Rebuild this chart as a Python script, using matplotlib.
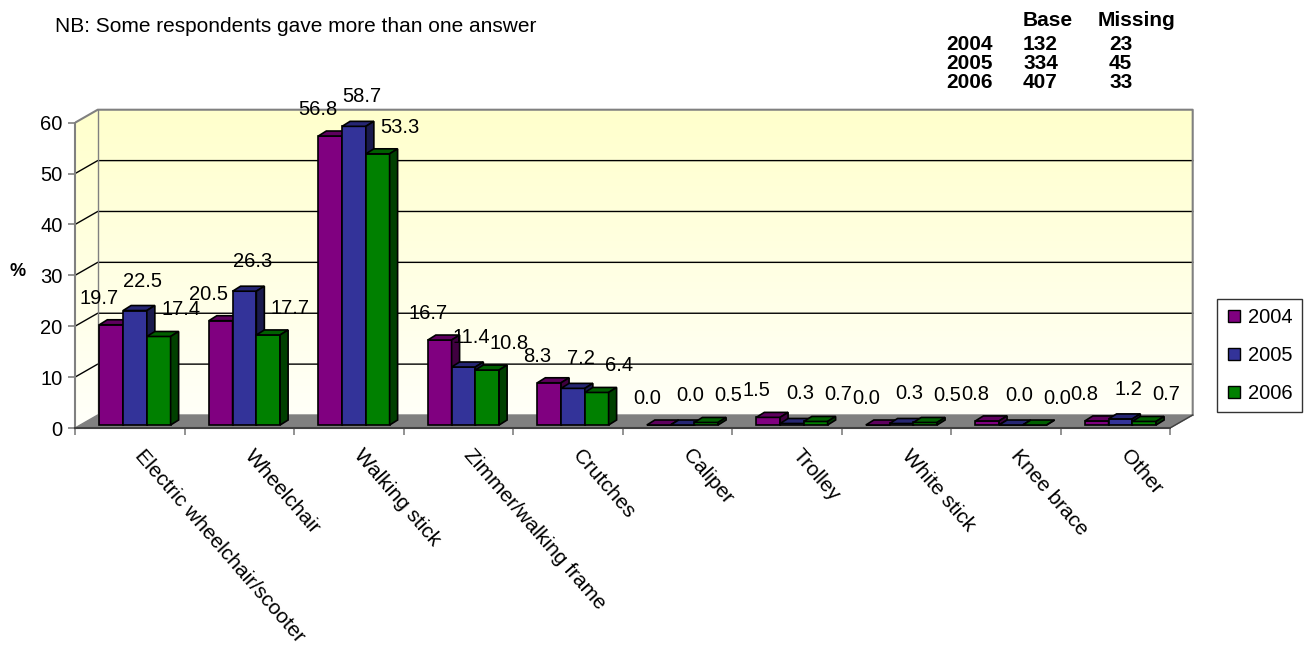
import matplotlib
matplotlib.use("Agg")
import matplotlib.pyplot as plt
import numpy as np
from matplotlib.lines import Line2D
from matplotlib.patches import Polygon

plt.rcParams["font.family"] = ["Liberation Sans", "DejaVu Sans"]

categories = [
    "Electric wheelchair/scooter",
    "Wheelchair",
    "Walking stick",
    "Zimmer/walking frame",
    "Crutches",
    "Caliper",
    "Trolley",
    "White stick",
    "Knee brace",
    "Other",
]
years = ["2004", "2005", "2006"]
pct_2004 = [19.7, 20.5, 56.8, 16.7, 8.3, 0.0, 1.5, 0.0, 0.8, 0.8]
pct_2005 = [22.5, 26.3, 58.7, 11.4, 7.2, 0.0, 0.3, 0.3, 0.0, 1.2]
pct_2006 = [17.4, 17.7, 53.3, 10.8, 6.4, 0.5, 0.7, 0.5, 0.0, 0.7]
base_n = [132, 334, 407]
missing_n = [23, 45, 33]
y_ticks = [0, 10, 20, 30, 40, 50, 60]

# figure / projection constants (pixels)
W, H = 1308, 655
PX_X = 109.5      # px per category
PX_Y = 5.088      # px per percentage point
ORIG_X, ORIG_Y = 75, 428
WALL_DX = 22.7 / PX_X
WALL_DY = 13.0 / PX_Y
BAR_W = 0.217
BAR_DX = 8.0 / PX_X
BAR_DY = 5.0 / PX_Y
DEPTH_FRAC = 0.23

face = ["#800080", "#333399", "#008000"]
top = ["#5e005e", "#262673", "#006000"]
side = ["#400040", "#1a1a4d", "#004000"]
label_dx = [-12, 8, 22]
label_dy = [17, 20, 17]

fig = plt.figure(figsize=(W / 100, H / 100), dpi=100)
ax = fig.add_axes([ORIG_X / W, (H - ORIG_Y) / H, (W - ORIG_X) / W, ORIG_Y / H])
ax.set_xlim(0, (W - ORIG_X) / PX_X)
ax.set_ylim(0, ORIG_Y / PX_Y)
ax.patch.set_visible(False)

n = len(categories)
ymax = y_ticks[-1]

# walls with a yellow gradient
wall = Polygon([(0, 0), (WALL_DX, WALL_DY), (n + WALL_DX, WALL_DY),
                (n + WALL_DX, ymax + WALL_DY), (WALL_DX, ymax + WALL_DY), (0, ymax)],
               closed=True, facecolor="none", edgecolor="none")
ax.add_patch(wall)
grad = np.linspace(1, 0, 256)[:, None]
cmap = matplotlib.colors.LinearSegmentedColormap.from_list("wall", ["#fffffa", "#ffffcc"])
img = ax.imshow(grad, cmap=cmap, aspect="auto", origin="upper",
                extent=(0, n + WALL_DX, 0, ymax + WALL_DY), zorder=0, vmin=0, vmax=1)
img.set_clip_path(wall)

# floor
floor = Polygon([(0, 0), (n, 0), (n + WALL_DX, WALL_DY), (WALL_DX, WALL_DY)],
                closed=True, facecolor="#808080", edgecolor="#808080", lw=1, zorder=1)
ax.add_patch(floor)

# grid lines on side and back wall
for v in y_ticks[1:-1]:
    ax.plot([0, WALL_DX, n + WALL_DX], [v, v + WALL_DY, v + WALL_DY], color="black", lw=1, zorder=1)
ax.plot([0, WALL_DX, n + WALL_DX, n + WALL_DX], [ymax, ymax + WALL_DY, ymax + WALL_DY, WALL_DY],
        color="#808080", lw=1.5, zorder=1)
ax.plot([WALL_DX, WALL_DX], [WALL_DY, ymax + WALL_DY], color="#808080", lw=1, zorder=1)
ax.plot([n, n + WALL_DX], [0, WALL_DY], color="#404040", lw=1, zorder=1)

# 3D-style bars
series = [pct_2004, pct_2005, pct_2006]
x0 = np.arange(n) + DEPTH_FRAC * WALL_DX + (1 - 3 * BAR_W) / 2
y0 = DEPTH_FRAC * WALL_DY
for j, vals in enumerate(series):
    vals = np.asarray(vals)
    xs = x0 + j * BAR_W
    ax.bar(xs, vals, width=BAR_W, bottom=y0, align="edge", color=face[j],
           edgecolor="black", lw=1.2, zorder=3 + j)
    for x, v in zip(xs, vals):
        t = y0 + v
        ax.add_patch(Polygon([(x, t), (x + BAR_W, t), (x + BAR_W + BAR_DX, t + BAR_DY), (x + BAR_DX, t + BAR_DY)],
                             closed=True, facecolor=top[j], edgecolor="black", lw=1.2, zorder=3 + j))
        ax.add_patch(Polygon([(x + BAR_W, y0), (x + BAR_W + BAR_DX, y0 + BAR_DY),
                              (x + BAR_W + BAR_DX, t + BAR_DY), (x + BAR_W, t)],
                             closed=True, facecolor=side[j], edgecolor="black", lw=1.2, zorder=3 + j))
        ax.text(x + BAR_W / 2 + label_dx[j] / PX_X, t + label_dy[j] / PX_Y, f"{v:.1f}",
                ha="center", va="bottom", fontsize=14.5, zorder=10)

# axes
for s in ("top", "right"):
    ax.spines[s].set_visible(False)
ax.spines["left"].set_bounds(0, ymax)
ax.spines["bottom"].set_bounds(0, n)
ax.spines["left"].set_color("#808080")
ax.spines["bottom"].set_color("#404040")
ax.spines["left"].set_linewidth(1.5)
ax.spines["bottom"].set_linewidth(1.5)
ax.spines["left"].set_zorder(2)
ax.spines["bottom"].set_zorder(2)
ax.set_yticks(y_ticks)
ax.set_xticks(range(n + 1))
ax.set_xticklabels([])
ax.tick_params(axis="both", length=5, width=1.2, color="#808080", labelsize=14.5, pad=4)

for i, name in enumerate(categories):
    ax.text(i + 0.5 + 16 / PX_X, -18 / PX_Y, name, rotation=-49, rotation_mode="anchor",
            ha="left", va="top", fontsize=15, clip_on=False)

fig.text(18 / W, 1 - 272 / H, "%", fontsize=13, fontweight="bold", ha="center", va="center")

# legend
handles = [Line2D([], [], marker="s", linestyle="none", markersize=9,
                  markerfacecolor=c, markeredgecolor="black") for c in face]
leg = fig.legend(handles, years, loc="upper left", bbox_to_anchor=(1217 / W, 1 - 299 / H),
                 frameon=True, fancybox=False, edgecolor="black", fontsize=14.5,
                 handlelength=0.8, handletextpad=0.3, labelspacing=0.95, borderpad=0.45,
                 borderaxespad=0)
leg.get_frame().set_linewidth(1)

# header notes
fig.text(55 / W, 1 - 27 / H, "NB: Some respondents gave more than one answer",
         fontsize=15, ha="left", va="center")
fig.text(1023 / W, 1 - 21 / H, "Base", fontsize=15, fontweight="bold", ha="left", va="center")
fig.text(1098 / W, 1 - 21 / H, "Missing", fontsize=15, fontweight="bold", ha="left", va="center")
for k, yr in enumerate(years):
    yy = 1 - (45 + 18.5 * k) / H
    fig.text(946 / W, yy, yr, fontsize=15, fontweight="bold", ha="left", va="center")
    fig.text(1023 / W, yy, str(base_n[k]), fontsize=15, fontweight="bold", ha="left", va="center")
    fig.text(1109 / W, yy, str(missing_n[k]), fontsize=15, fontweight="bold", ha="left", va="center")

fig.savefig("out.png", dpi=100)
